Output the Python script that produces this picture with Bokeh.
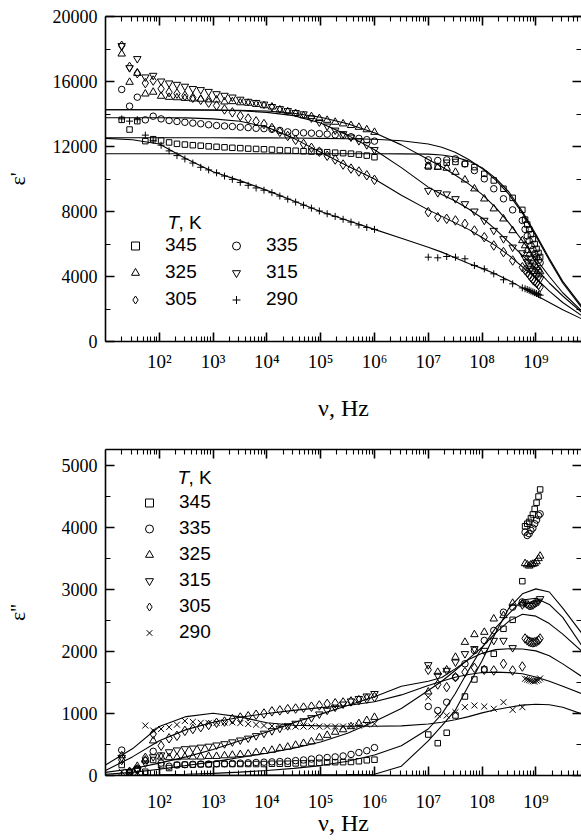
import numpy as np
from bokeh.plotting import figure
from bokeh.models import (Range1d, FixedTicker, LogAxis, LinearAxis,
                          CustomJSTickFormatter, Legend, LegendItem, Label)
from bokeh.layouts import column
from bokeh.embed import file_html
from bokeh.resources import INLINE

# ---------------- data ----------------
temps = ["345", "335", "325", "315", "305", "290"]

freq_lf = [20, 28, 39, 55, 77, 108, 152, 213, 299, 420, 589, 826, 1160, 1630, 2280,
           3200, 4490, 6300, 8830, 12400, 17400, 24400, 34200, 48000, 67300, 94400,
           132000, 186000, 261000, 366000, 513000, 719000, 1000000]
freq_hf = [1.0e7, 1.5e7, 2.2e7, 3.2e7, 4.8e7, 7.2e7, 1.1e8, 1.65e8, 2.5e8, 3.7e8, 5.6e8,
           6.3e8, 6.9e8, 7.5e8, 8.1e8, 8.8e8, 9.5e8, 1.03e9, 1.12e9, 1.2e9]
freq_fit = [1e1, 3.16e1, 1e2, 3.16e2, 1e3, 3.16e3, 1e4, 3.16e4, 1e5, 3.16e5, 1e6, 3.16e6,
            1e7, 1.78e7, 3.16e7, 5.62e7, 1e8, 1.78e8, 3.16e8, 5.62e8, 1e9, 1.78e9, 3.16e9, 7.05e9]

# eps' (top panel)
e1_lf_345 = [13640, 13045, 13560, 12330, 12450, 12370, 12250, 12165, 12120, 12080, 12050, 12010, 11980, 11950, 11920, 11900, 11870, 11850, 11830, 11810, 11780, 11760, 11740, 11710, 11690, 11670, 11650, 11620, 11590, 11560, 11500, 11440, 11340]
e1_lf_335 = [15510, 14480, 15035, 13640, 13865, 13700, 13600, 13540, 13490, 13440, 13400, 13340, 13290, 13260, 13230, 13190, 13160, 13120, 13100, 13060, 12990, 12900, 12860, 12840, 12820, 12790, 12760, 12720, 12680, 12600, 12500, 12420, 12330]
e1_lf_325 = [17700, 15960, 16510, 15240, 15350, 15100, 15035, 15010, 14970, 14930, 14920, 14880, 14870, 14750, 14770, 14700, 14670, 14600, 14520, 14440, 14260, 14150, 14040, 13900, 13850, 13730, 13620, 13500, 13400, 13300, 13190, 13040, 12880]
e1_lf_315 = [18200, 16840, 17400, 16270, 16370, 16020, 15900, 15815, 15700, 15560, 15490, 15380, 15240, 15140, 15035, 14900, 14770, 14700, 14600, 14450, 14320, 14200, 14080, 14000, 13750, 13500, 13250, 13000, 12780, 12570, 12350, 12100, 11800]
e1_lf_305 = [18200, 16900, 16510, 15900, 16060, 15550, 15345, 15250, 15120, 15000, 14870, 14700, 14520, 14280, 14100, 13880, 13720, 13550, 13380, 13140, 12900, 12650, 12410, 12160, 11920, 11680, 11430, 11200, 10890, 10640, 10460, 10230, 9950]
e1_lf_290 = [13700, 13560, 13650, 12700, 12380, 12080, 11730, 11440, 11230, 10980, 10720, 10560, 10380, 10180, 9980, 9790, 9610, 9450, 9310, 9160, 8950, 8760, 8580, 8390, 8210, 8030, 7860, 7700, 7520, 7350, 7170, 7020, 6900]

e1_hf_345 = [10770, 10770, 11000, 11050, 10930, 10730, 10320, 9910, 9400, 8840, 8100, 7500, 7200, 6900, 6600, 6300, 6000, 5700, 5450, 5200]
e1_hf_335 = [11180, 11140, 11180, 11240, 10930, 10520, 10010, 9400, 8780, 8100, 7450, 6900, 6500, 6200, 5900, 5650, 5400, 5200, 5000, 4850]
e1_hf_325 = [10800, 10730, 10670, 10420, 9950, 9400, 8780, 8170, 7550, 6830, 6215, 5900, 5600, 5350, 5100, 4900, 4700, 4550, 4400, 4300]
e1_hf_315 = [9290, 9150, 9070, 8780, 8470, 8020, 7450, 6830, 6320, 5800, 5450, 5150, 4900, 4700, 4500, 4350, 4200, 4050, 3950, 3850]
e1_hf_305 = [7960, 7650, 7550, 7450, 7240, 6830, 6420, 5910, 5500, 4985, 4570, 4400, 4250, 4100, 3950, 3800, 3700, 3600, 3480, 3350]
e1_hf_290 = [5190, 5150, 5230, 5190, 5090, 4680, 4470, 4165, 3800, 3550, 3300, 3250, 3200, 3150, 3100, 3050, 3000, 2950, 2900, 2850]

e1_fit_345 = [11550, 11550, 11550, 11550, 11550, 11550, 11550, 11550, 11550, 11550, 11550, 11545, 11530, 11480, 11350, 11100, 10700, 10050, 9200, 8000, 6600, 5100, 3700, 2200]
e1_fit_335 = [12540, 12540, 12535, 12535, 12535, 12530, 12530, 12520, 12500, 12480, 12450, 12350, 12150, 11950, 11650, 11200, 10650, 9950, 9050, 7900, 6500, 5000, 3600, 2100]
e1_fit_325 = [14260, 14260, 14260, 14255, 14250, 14230, 14180, 14050, 13800, 13400, 12850, 12100, 11200, 10750, 10250, 9700, 9050, 8250, 7300, 6200, 5100, 4000, 3000, 1900]
e1_fit_315 = [14260, 14260, 14260, 14250, 14240, 14200, 14100, 13900, 13450, 12700, 11800, 10700, 9500, 9050, 8650, 8150, 7600, 6900, 6100, 5300, 4500, 3600, 2800, 1800]
e1_fit_305 = [13765, 13765, 13765, 13760, 13700, 13550, 13200, 12500, 11650, 10800, 10000, 9000, 8100, 7700, 7300, 6900, 6400, 5900, 5300, 4600, 3900, 3100, 2400, 1600]
e1_fit_290 = [12500, 12420, 12150, 11250, 10450, 9900, 9300, 8650, 8000, 7450, 6900, 6350, 5800, 5500, 5150, 4800, 4500, 4150, 3750, 3300, 2850, 2400, 1950, 1400]

# eps'' (bottom panel)
e2_lf_345 = [170, 30, 110, 60, 250, 165, 120, 170, 175, 175, 180, 180, 185, 185, 185, 185, 185, 185, 185, 190, 190, 190, 195, 195, 200, 205, 212, 215, 215, 218, 230, 245, 255]
e2_lf_335 = [410, 50, 100, 240, 390, 200, 150, 170, 175, 180, 185, 185, 190, 190, 195, 200, 205, 210, 215, 220, 225, 230, 240, 250, 265, 280, 290, 300, 315, 340, 370, 400, 450]
e2_lf_325 = [320, 60, 150, 250, 560, 300, 290, 290, 300, 300, 300, 310, 310, 320, 330, 340, 350, 370, 390, 410, 440, 460, 490, 520, 545, 610, 650, 700, 740, 790, 840, 890, 940]
e2_lf_315 = [290, 60, 100, 200, 300, 330, 380, 410, 430, 440, 455, 470, 490, 510, 540, 570, 600, 640, 680, 720, 760, 800, 840, 880, 930, 990, 1050, 1100, 1150, 1200, 1240, 1280, 1320]
e2_lf_305 = [250, 60, 100, 285, 670, 480, 600, 640, 720, 750, 780, 815, 850, 870, 910, 935, 955, 980, 1000, 1035, 1050, 1070, 1080, 1095, 1110, 1130, 1155, 1165, 1178, 1195, 1215, 1240, 1265]
e2_lf_290 = [60, 30, 50, 806, 726, 750, 780, 820, 880, 865, 850, 845, 850, 855, 858, 845, 832, 820, 806, 798, 792, 790, 790, 790, 790, 790, 790, 790, 790, 795, 805, 822, 834]

e2_hf_345 = [661, 521, 689, 968, 1274, 1549, 1710, 1963, 2366, 2511, 3134, 4020, 4060, 4090, 4150, 4210, 4300, 4400, 4500, 4613]
e2_hf_335 = [1113, 1048, 1182, 1586, 1802, 2016, 2178, 2339, 2634, 2715, 2800, 3925, 3871, 3900, 3952, 3990, 4060, 4120, 4194, 4220]
e2_hf_325 = [1350, 1667, 1705, 1909, 2150, 2274, 2312, 2527, 2581, 2780, 2770, 3420, 3400, 3380, 3400, 3410, 3420, 3450, 3500, 3540]
e2_hf_315 = [1785, 1613, 1694, 1828, 1963, 2044, 2016, 2178, 2178, 2060, 2750, 2780, 2760, 2740, 2740, 2750, 2770, 2790, 2810, 2850]
e2_hf_305 = [1705, 1468, 1425, 1586, 1667, 1737, 1705, 1694, 1802, 1694, 1758, 2210, 2180, 2160, 2150, 2145, 2150, 2160, 2180, 2210]
e2_hf_290 = [1263, 984, 968, 1021, 1102, 1129, 1113, 1076, 1182, 1060, 1102, 1560, 1550, 1540, 1530, 1520, 1520, 1530, 1540, 1565]

e2_fit_345 = [0, 1, 2, 3, 4, 5, 7, 9, 12, 15, 20, 150, 560, 800, 1050, 1450, 1850, 2300, 2700, 2930, 3010, 2960, 2700, 2300]
e2_fit_335 = [2, 5, 10, 20, 35, 55, 80, 115, 160, 230, 330, 480, 750, 990, 1318, 1700, 2060, 2380, 2610, 2830, 2860, 2760, 2550, 2100]
e2_fit_325 = [20, 50, 100, 160, 220, 290, 360, 440, 540, 680, 870, 1080, 1370, 1520, 1694, 1880, 2070, 2300, 2490, 2600, 2570, 2450, 2280, 2010]
e2_fit_315 = [50, 110, 200, 300, 420, 560, 700, 850, 990, 1130, 1270, 1440, 1520, 1580, 1720, 1870, 1970, 2030, 2044, 2040, 2010, 1930, 1800, 1600]
e2_fit_305 = [80, 300, 560, 740, 860, 940, 1000, 1050, 1095, 1130, 1190, 1300, 1450, 1520, 1586, 1630, 1660, 1667, 1660, 1640, 1590, 1520, 1440, 1320]
e2_fit_290 = [170, 430, 790, 950, 1005, 945, 850, 810, 800, 795, 795, 800, 830, 860, 900, 950, 1010, 1060, 1100, 1135, 1150, 1140, 1100, 995]

x_ticks = [1e2, 1e3, 1e4, 1e5, 1e6, 1e7, 1e8, 1e9]
x_tick_labels = ["10²", "10³", "10⁴", "10⁵", "10⁶", "10⁷", "10⁸", "10⁹"]
y1_ticks = [0, 4000, 8000, 12000, 16000, 20000]
y1_minor = [2000, 6000, 10000, 14000, 18000]
y2_ticks = [0, 1000, 2000, 3000, 4000, 5000]
y2_minor = [500, 1500, 2500, 3500, 4500]

top_lf = dict(zip(temps, [e1_lf_345, e1_lf_335, e1_lf_325, e1_lf_315, e1_lf_305, e1_lf_290]))
top_hf = dict(zip(temps, [e1_hf_345, e1_hf_335, e1_hf_325, e1_hf_315, e1_hf_305, e1_hf_290]))
top_fit = dict(zip(temps, [e1_fit_345, e1_fit_335, e1_fit_325, e1_fit_315, e1_fit_305, e1_fit_290]))
bot_lf = dict(zip(temps, [e2_lf_345, e2_lf_335, e2_lf_325, e2_lf_315, e2_lf_305, e2_lf_290]))
bot_hf = dict(zip(temps, [e2_hf_345, e2_hf_335, e2_hf_325, e2_hf_315, e2_hf_305, e2_hf_290]))
bot_fit = dict(zip(temps, [e2_fit_345, e2_fit_335, e2_fit_325, e2_fit_315, e2_fit_305, e2_fit_290]))

SERIF = "Liberation Serif"
SANS = "Liberation Sans"

minor_x = [k * 10.0 ** n for n in range(1, 10) for k in range(2, 10)]
blank_fmt_code = "return '';"


def style_axis(ax, show_labels, fs="18px"):
    ax.major_tick_in = 9
    ax.major_tick_out = 0
    ax.minor_tick_in = 5
    ax.minor_tick_out = 0
    ax.axis_line_width = 1.6
    ax.major_tick_line_width = 1.6
    ax.minor_tick_line_width = 1.1
    ax.axis_line_color = "black"
    ax.major_tick_line_color = "black"
    ax.minor_tick_line_color = "black"
    ax.major_label_text_font = SERIF
    ax.major_label_text_color = "black"
    ax.axis_label_text_font = SERIF
    ax.axis_label_text_font_style = "normal"
    ax.axis_label_text_color = "black"
    if show_labels:
        ax.major_label_text_font_size = fs
    else:
        ax.formatter = CustomJSTickFormatter(code=blank_fmt_code)
        ax.major_label_text_font_size = "1px"
        ax.major_label_standoff = 0


def make_panel(height, top_border, bottom_border, ymax, yticks, yminor,
               lf, hf, fit, ylabel, marker_for, x_label_standoff, x_tick_standoff,
               y_label_standoff):
    p = figure(width=581, height=height, x_axis_type="log",
               x_range=Range1d(10, 7.05e9), y_range=Range1d(0, ymax),
               output_backend="svg", toolbar_location=None,
               min_border_left=105, min_border_right=0,
               min_border_top=top_border, min_border_bottom=bottom_border)
    p.outline_line_color = None
    p.grid.visible = False
    p.background_fill_color = "white"
    p.border_fill_color = "white"

    fmt = CustomJSTickFormatter(args=dict(labels=x_tick_labels),
                                code="const e = Math.round(Math.log10(tick)); return labels[e - 2];")
    xt = FixedTicker(ticks=x_ticks, minor_ticks=minor_x)
    yt = FixedTicker(ticks=yticks, minor_ticks=yminor)

    xa = p.xaxis[0]
    xa.ticker = xt
    xa.formatter = fmt
    style_axis(xa, True, "19px")
    xa.major_label_standoff = x_tick_standoff
    xa.axis_label = "ν, Hz"
    xa.axis_label_text_font_size = "24px"
    xa.axis_label_standoff = x_label_standoff

    ya = p.yaxis[0]
    ya.ticker = yt
    style_axis(ya, True, "18px")
    ya.major_label_standoff = 8
    ya.axis_label = ylabel
    ya.axis_label_text_font_size = "22px"
    ya.axis_label_standoff = y_label_standoff

    top = LogAxis(ticker=FixedTicker(ticks=x_ticks, minor_ticks=minor_x))
    style_axis(top, False)
    p.add_layout(top, "above")
    right = LinearAxis(ticker=FixedTicker(ticks=yticks, minor_ticks=yminor))
    style_axis(right, False)
    right.axis_line_color = None
    p.add_layout(right, "right")

    for t in temps:
        p.line(freq_fit, fit[t], line_color="black", line_width=1.1)
    rends = {}
    for t in temps:
        m = marker_for[t]
        rends[t] = p.scatter(freq_lf + freq_hf, lf[t] + hf[t], marker=m["marker"],
                             size=m["size"], fill_color=None, line_color="black",
                             line_width=1.0)
    return p, rends


def add_legend(p, rends, labels, x, y, spacing):
    items = [LegendItem(label=l, renderers=[rends[l]]) for l in labels]
    lg = Legend(items=items, location=(x, y), orientation="vertical",
                border_line_color=None, background_fill_alpha=0,
                padding=0, margin=0, spacing=spacing, glyph_width=20, glyph_height=21,
                label_height=21, label_standoff=20,
                label_text_font=SANS, label_text_font_size="19px",
                label_text_color="black")
    p.add_layout(lg)


def add_title(p, x, y):
    p.add_layout(Label(x=x, y=y, x_units="screen", y_units="screen", text="T",
                       text_font=SANS, text_font_size="19px", text_font_style="italic",
                       text_baseline="middle", text_color="black"))
    p.add_layout(Label(x=x + 11, y=y, x_units="screen", y_units="screen", text=", K",
                       text_font=SANS, text_font_size="19px",
                       text_baseline="middle", text_color="black"))


markers_top = {
    "345": dict(marker="square", size=5.5),
    "335": dict(marker="circle", size=6.5),
    "325": dict(marker="triangle", size=7.5),
    "315": dict(marker="inverted_triangle", size=7.5),
    "305": dict(marker="diamond", size=9.5),
    "290": dict(marker="cross", size=7),
}
markers_bot = dict(markers_top)
markers_bot["290"] = dict(marker="x", size=8.5)

p1, r1 = make_panel(440, 16, 99, 20000, y1_ticks, y1_minor, top_lf, top_hf, top_fit,
                    "ε'", markers_top, x_label_standoff=20, x_tick_standoff=9,
                    y_label_standoff=20)
add_legend(p1, r1, ["345", "325", "305"], 20, 30.8, 5)
add_legend(p1, r1, ["335", "315", "290"], 121, 30.8, 5)
add_title(p1, 62, 119)

p2, r2 = make_panel(400, 9, 65, 5258, y2_ticks, y2_minor, bot_lf, bot_hf, bot_fit,
                    "ε''", markers_bot, x_label_standoff=-5, x_tick_standoff=15,
                    y_label_standoff=29)
add_legend(p2, r2, temps, 34, 131.8, 4)
add_title(p2, 72, 298)

layout = column(p1, p2, spacing=0)
open("out.html", "w").write(file_html(layout, INLINE))
